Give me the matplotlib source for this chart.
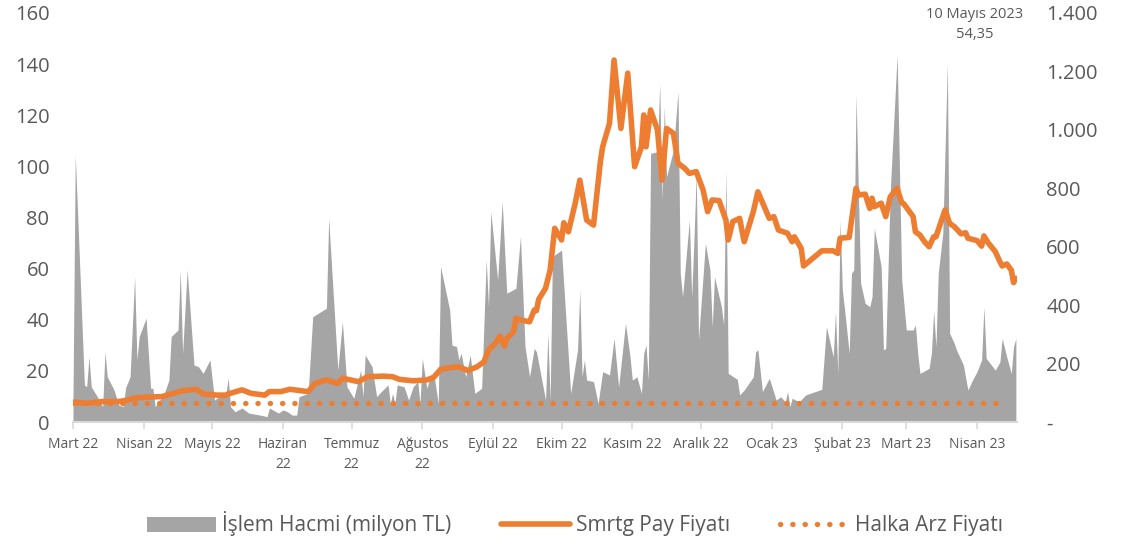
import numpy as np
import pandas as pd
import matplotlib
matplotlib.use("Agg")
import matplotlib.pyplot as plt
from matplotlib.ticker import FuncFormatter, MultipleLocator

# Islem hacmi (milyon TL)
vol_dates = [
    "2022-03-01", "2022-03-02", "2022-03-06", "2022-03-07", "2022-03-08", "2022-03-09", "2022-03-12",
    "2022-03-14", "2022-03-15", "2022-03-16", "2022-03-19", "2022-03-21", "2022-03-23", "2022-03-24",
    "2022-03-26", "2022-03-28", "2022-03-29", "2022-03-30",
    "2022-04-02", "2022-04-04", "2022-04-05", "2022-04-06", "2022-04-10", "2022-04-12", "2022-04-13",
    "2022-04-16", "2022-04-17", "2022-04-18", "2022-04-20", "2022-04-23", "2022-04-25", "2022-04-27",
    "2022-04-30",
    "2022-05-02", "2022-05-04", "2022-05-07", "2022-05-08", "2022-05-09", "2022-05-11", "2022-05-14",
    "2022-05-17", "2022-05-22", "2022-05-25", "2022-05-26", "2022-05-30",
    "2022-06-01", "2022-06-03", "2022-06-05", "2022-06-07", "2022-06-08", "2022-06-12", "2022-06-14",
    "2022-06-20", "2022-06-21", "2022-06-25", "2022-06-27", "2022-06-29",
    "2022-07-02", "2022-07-05", "2022-07-06", "2022-07-07", "2022-07-10", "2022-07-12", "2022-07-14",
    "2022-07-17", "2022-07-18", "2022-07-19", "2022-07-20", "2022-07-21", "2022-07-24", "2022-07-26",
    "2022-07-28", "2022-07-30", "2022-07-31",
    "2022-08-01", "2022-08-03", "2022-08-04", "2022-08-06", "2022-08-08", "2022-08-09", "2022-08-13",
    "2022-08-14", "2022-08-16", "2022-08-17", "2022-08-18", "2022-08-20", "2022-08-22", "2022-08-24",
    "2022-08-27", "2022-08-29", "2022-08-30", "2022-08-31",
    "2022-09-03", "2022-09-05", "2022-09-07", "2022-09-11", "2022-09-13", "2022-09-15", "2022-09-17",
    "2022-09-19", "2022-09-20", "2022-09-24", "2022-09-25", "2022-09-26", "2022-09-27",
    "2022-10-01", "2022-10-05", "2022-10-08", "2022-10-09", "2022-10-10", "2022-10-11", "2022-10-12",
    "2022-10-15", "2022-10-17", "2022-10-19", "2022-10-22", "2022-10-24", "2022-10-26", "2022-10-29",
    "2022-10-31",
    "2022-11-01", "2022-11-03", "2022-11-05", "2022-11-06", "2022-11-07", "2022-11-08", "2022-11-09",
    "2022-11-12", "2022-11-13", "2022-11-14", "2022-11-15", "2022-11-16", "2022-11-19", "2022-11-21",
    "2022-11-22", "2022-11-23", "2022-11-26", "2022-11-27", "2022-11-28", "2022-11-29", "2022-11-30",
    "2022-12-03", "2022-12-05", "2022-12-06", "2022-12-07", "2022-12-10", "2022-12-11", "2022-12-12",
    "2022-12-13", "2022-12-17", "2022-12-18", "2022-12-20", "2022-12-24", "2022-12-25", "2022-12-26",
    "2022-12-28", "2022-12-31",
    "2023-01-03", "2023-01-05", "2023-01-07", "2023-01-08", "2023-01-09", "2023-01-10", "2023-01-13",
    "2023-01-16", "2023-01-23", "2023-01-25", "2023-01-28", "2023-01-29", "2023-01-30", "2023-01-31",
    "2023-02-01", "2023-02-02", "2023-02-04", "2023-02-05", "2023-02-06", "2023-02-07", "2023-02-09",
    "2023-02-11", "2023-02-13", "2023-02-14", "2023-02-15", "2023-02-18", "2023-02-19", "2023-02-20",
    "2023-02-22", "2023-02-25", "2023-02-27",
    "2023-03-01", "2023-03-04", "2023-03-05", "2023-03-06", "2023-03-07", "2023-03-11", "2023-03-12",
    "2023-03-13", "2023-03-14", "2023-03-15", "2023-03-17", "2023-03-19", "2023-03-20", "2023-03-22",
    "2023-03-23", "2023-03-26", "2023-03-28", "2023-03-30",
    "2023-04-01", "2023-04-03", "2023-04-04", "2023-04-05", "2023-04-09", "2023-04-11", "2023-04-12",
    "2023-04-14", "2023-04-16", "2023-04-17", "2023-04-18",
]
vol_values = [
    10, 104.5, 14.5, 13.8, 25.5, 13.8, 9.4,
    6, 27.5, 17.7, 12.5, 6.7, 6, 13.3,
    17.7, 56.8, 24.3, 33.4,
    40.6, 13.2, 13.2, 6, 11.2, 16.4, 33.4,
    36, 59.5, 26.9, 59.5, 22.3, 21.6, 19,
    24.3,
    8.6, 9.9, 11.2, 17.2, 6, 4, 5.5,
    3.5, 2.7, 2.1, 5.5, 3.5,
    4.7, 4, 2.7, 2.7, 9.9, 11.2, 41.2,
    44.5, 79.7, 20.3, 39.2, 13.8,
    9.3, 20.3, 9.9, 26.2, 21.6, 9.9, 11.9,
    14.5, 7.3, 11.2, 7.3, 14.5, 13.8, 8.6,
    13.8, 15.8, 7.3,
    24.9, 13.2, 16.4, 19, 7.3, 60.8, 43.8,
    30.1, 29.5, 24.3, 26.9, 17.7, 26.2, 11.2,
    13.2, 63.4, 45.1, 82.3,
    55.6, 86.2, 50.4, 52.3, 72.5, 29.5, 17.7,
    28.8, 27.5, 8.6, 34.7, 8.6, 64.7,
    67.3, 11.2, 28.2, 51.6, 17.7, 24.3, 16.4,
    15.8, 7.3, 19.7, 18.4, 32.7, 13.8, 38.6,
    25.5,
    16.4, 17.7, 11.2, 26.9, 30.1, 16.4, 105.1,
    105.7, 132.5, 86.9, 123.4, 96, 106.4, 129.2,
    58.2, 49, 79, 49, 71.2, 97.3, 32.1,
    69.9, 59.5, 37.3, 56.8, 45.1, 38, 98.6,
    19, 16.7, 10.6, 12.5, 17.7, 27.5, 28.2,
    11.9, 17.1,
    8.6, 9.9, 7.9, 11.9, 6, 9.3, 7.9,
    10.6, 12.8, 37.3, 25.5, 43.2, 19, 79,
    51.6, 43.8, 26.9, 58.2, 59.5, 128, 54.3,
    46.4, 45.1, 49, 75.8, 60.8, 28.2, 28.8,
    90.8, 143.6, 55.6,
    36, 36, 38, 26.9, 19, 21, 26.9,
    43.2, 29.5, 58.2, 73.8, 140.3, 34.7, 30.8,
    28.2, 22.3, 12.5, 16.4,
    19.7, 24.3, 45.1, 24.9, 20.3, 23.5, 32.7,
    25.5, 19, 29.5, 32.7,
]

# Smrtg pay fiyati (right axis)
price_dates = [
    "2022-03-01", "2022-03-07", "2022-03-14", "2022-03-21", "2022-03-25", "2022-03-27",
    "2022-04-02", "2022-04-09", "2022-04-14", "2022-04-18", "2022-04-24", "2022-04-27",
    "2022-05-03", "2022-05-07", "2022-05-08", "2022-05-14", "2022-05-18", "2022-05-24",
    "2022-05-26", "2022-05-31", "2022-06-04", "2022-06-12", "2022-06-15", "2022-06-20",
    "2022-06-25", "2022-06-27", "2022-07-04", "2022-07-08", "2022-07-15", "2022-07-19",
    "2022-07-22", "2022-07-28", "2022-08-03", "2022-08-06", "2022-08-09", "2022-08-13",
    "2022-08-17", "2022-08-21", "2022-08-25", "2022-08-28", "2022-08-30", "2022-09-02",
    "2022-09-04", "2022-09-06", "2022-09-07", "2022-09-10", "2022-09-11", "2022-09-13",
    "2022-09-17", "2022-09-19", "2022-09-20", "2022-09-21", "2022-09-24", "2022-09-26",
    "2022-09-28", "2022-10-01", "2022-10-02", "2022-10-04", "2022-10-07", "2022-10-09",
    "2022-10-12", "2022-10-15", "2022-10-18", "2022-10-19", "2022-10-22", "2022-10-24",
    "2022-10-27", "2022-10-28", "2022-10-30", "2022-11-02", "2022-11-05", "2022-11-06",
    "2022-11-07", "2022-11-09", "2022-11-12", "2022-11-14", "2022-11-16", "2022-11-19",
    "2022-11-21", "2022-11-24", "2022-11-26", "2022-11-29", "2022-12-02", "2022-12-04",
    "2022-12-06", "2022-12-09", "2022-12-12", "2022-12-13", "2022-12-15", "2022-12-18",
    "2022-12-20", "2022-12-24", "2022-12-26", "2022-12-31", "2023-01-02", "2023-01-04",
    "2023-01-08", "2023-01-10", "2023-01-11", "2023-01-14", "2023-01-15", "2023-01-19",
    "2023-01-23", "2023-01-28", "2023-01-30", "2023-01-31", "2023-02-04", "2023-02-07",
    "2023-02-08", "2023-02-11", "2023-02-13", "2023-02-14", "2023-02-15", "2023-02-18",
    "2023-02-20", "2023-02-22", "2023-02-25", "2023-02-27", "2023-02-28", "2023-03-04",
    "2023-03-05", "2023-03-07", "2023-03-09", "2023-03-11", "2023-03-13", "2023-03-14",
    "2023-03-18", "2023-03-20", "2023-03-22", "2023-03-25", "2023-03-27", "2023-03-28",
    "2023-04-01", "2023-04-03", "2023-04-04", "2023-04-06", "2023-04-09", "2023-04-11",
    "2023-04-12", "2023-04-14", "2023-04-16", "2023-04-17", "2023-04-18",
]
price_values = [
    68, 64, 70, 70, 75, 81,
    85, 87, 98, 107, 112, 96,
    92, 92, 96, 110, 98, 92,
    104, 104, 112, 104, 132, 144,
    132, 150, 138, 155, 157, 155,
    146, 141, 144, 153, 180, 186,
    189, 176, 189, 206, 246, 269,
    294, 260, 286, 309, 355, 349,
    343, 383, 381, 420, 458, 520,
    663, 623, 682, 651, 749, 828,
    691, 674, 891, 942, 1022, 1239,
    1005, 1068, 1194, 874, 942, 1051,
    942, 1068, 1000, 828, 1005, 988,
    886, 868, 851, 857, 794, 720,
    760, 758, 691, 623, 686, 697,
    617, 720, 788, 697, 703, 657,
    646, 617, 634, 594, 534, 560,
    586, 586, 577, 629, 632, 800,
    777, 780, 731, 766, 737, 749,
    703, 771, 800, 751, 746, 703,
    651, 640, 617, 600, 634, 634,
    726, 680, 669, 644, 648, 629,
    621, 602, 637, 612, 583, 549,
    534, 541, 520, 477, 492,
]

# Halka arz fiyati (flat)
ipo_dates = ["2022-03-01", "2023-04-14"]
ipo_values = [65, 65]

month_labels = ["Mart 22", "Nisan 22", "Mayıs 22", "Haziran\n22", "Temmuz\n22", "Ağustos\n22",
                "Eylül 22", "Ekim 22", "Kasım 22", "Aralık 22", "Ocak 23", "Şubat 23",
                "Mart 23", "Nisan 23"]

GRAY = "#A5A5A5"
ORANGE = "#ED7D31"
TXT = "#595959"

plt.rcParams['font.family'] = ['Open Sans', 'DejaVu Sans']

fig = plt.figure(figsize=(11.44, 5.44), dpi=100)
ax = fig.add_axes([73 / 1144, 122 / 544, 944 / 1144, 409 / 544])
ax2 = ax.twinx()

vd = pd.to_datetime(vol_dates)
pdt = pd.to_datetime(price_dates)
idt = pd.to_datetime(ipo_dates)

ax.fill_between(vd, 0, vol_values, color=GRAY, lw=0, label="İşlem Hacmi (milyon TL)")
ax2.plot(pdt, price_values, color=ORANGE, lw=4.0, solid_joinstyle="round",
         solid_capstyle="round", label="Smrtg Pay Fiyatı")
ax2.plot(idt, ipo_values, color=ORANGE, lw=3.8, linestyle=(0, (0.05, 2.28)),
         dash_capstyle="round", label="Halka Arz Fiyatı")

ax.set_ylim(0, 160)
ax2.set_ylim(0, 1400)
ax.set_xlim(pd.Timestamp("2022-03-01"), pd.Timestamp("2023-04-18 12:00"))

ax.yaxis.set_major_locator(MultipleLocator(20))
ax2.yaxis.set_major_locator(MultipleLocator(200))
ax2.yaxis.set_major_formatter(FuncFormatter(
    lambda v, p: "-" if v == 0 else f"{int(v):,}".replace(",", ".")))

ticks = pd.date_range("2022-03-01", "2023-04-01", freq="MS")
ax.set_xticks(ticks)
ax.set_xticklabels(month_labels, fontsize=10, color=TXT, linespacing=1.45)

for a in (ax, ax2):
    for s in a.spines.values():
        s.set_visible(False)
ax.spines["bottom"].set_visible(True)
ax.spines["bottom"].set_color("#D9D9D9")
ax.spines["bottom"].set_linewidth(1.5)

ax.tick_params(axis="x", length=5, width=1.2, color="#D9D9D9", pad=6)
ax.tick_params(axis="y", length=0, labelsize=14.5, labelcolor=TXT, pad=17)
ax2.tick_params(axis="y", length=0, labelsize=14.5, labelcolor=TXT, pad=21)

fig.text(975 / 1144, 1 - 7 / 544, "10 Mayıs 2023\n54,35", ha="center", va="top",
         fontsize=10.5, color=TXT, linespacing=1.45)

h1, l1 = ax.get_legend_handles_labels()
h2, l2 = ax2.get_legend_handles_labels()
fig.legend(h1 + h2, l1 + l2, loc="center", bbox_to_anchor=(575 / 1144, 20 / 544),
           ncol=3, frameon=False, fontsize=15, handlelength=3.3, handletextpad=0.3,
           columnspacing=2.4, labelcolor=TXT)

fig.savefig("out.png", dpi=100)
